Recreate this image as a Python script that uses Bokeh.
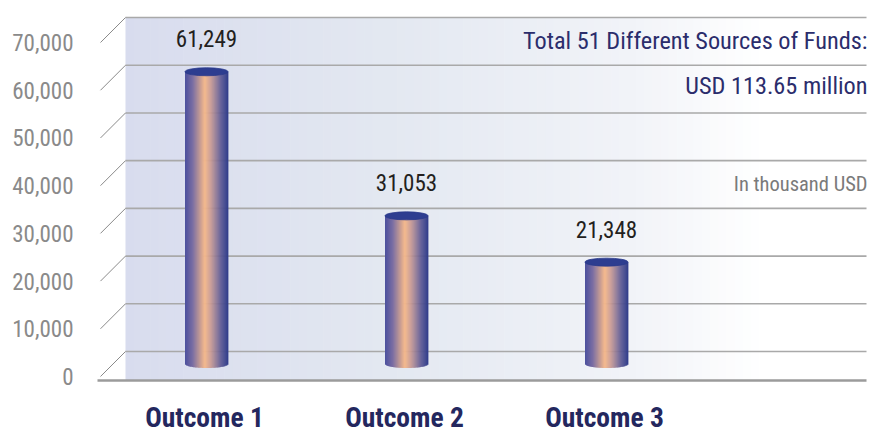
import numpy as np
from bokeh.plotting import figure
from bokeh.models import Range1d
from bokeh.core.properties import value
from bokeh.embed import file_html
from bokeh.resources import INLINE

# ---------------- data ----------------
categories = ["Outcome 1", "Outcome 2", "Outcome 3"]
amounts = [61249, 31053, 21348]
amount_labels = ["61,249", "31,053", "21,348"]
y_ticks = [0, 10000, 20000, 30000, 40000, 50000, 60000, 70000]
y_tick_labels = ["0", "10,000", "20,000", "30,000", "40,000", "50,000", "60,000", "70,000"]
title_lines = ["Total 51 Different Sources of Funds:", "USD 113.65 million"]
unit_note = "In thousand USD"

# ---------------- layout / style ----------------
W, H = 872, 435
PX_PER_X = 200.0      # pixels per category step
X0_PX = 206.0         # canvas x of first category centre
PX_PER_V = 0.004771   # pixels per value unit
V0_PX = 351.0         # canvas y of value 0 on the back wall

def dx(px):
    return px / PX_PER_X

def dv(px):
    return px / PX_PER_V

def xpix(px):
    return (px - X0_PX) / PX_PER_X

x_range = Range1d(xpix(0), xpix(W))
y_range = Range1d(-(H - V0_PX) / PX_PER_V, V0_PX / PX_PER_V)

COND = "Roboto Condensed, DejaVu Sans Condensed, sans-serif"
NAVY = "#2b2d6c"

def hex2rgb(h):
    h = h.lstrip("#")
    return [int(h[i:i + 2], 16) for i in (0, 2, 4)]

def interp(stops, t):
    for (t0, c0), (t1, c1) in zip(stops[:-1], stops[1:]):
        if t <= t1:
            f = 0 if t1 == t0 else (t - t0) / (t1 - t0)
            a, b = hex2rgb(c0), hex2rgb(c1)
            return "#%02x%02x%02x" % tuple(int(round(a[i] + (b[i] - a[i]) * f)) for i in range(3))
    return stops[-1][1]

p = figure(width=W, height=H, x_range=x_range, y_range=y_range,
           output_backend="svg", toolbar_location=None, min_border=0,
           x_axis_location=None, y_axis_location=None,
           outline_line_color=None, background_fill_color="white",
           border_fill_color="white")
p.grid.visible = False

# ---------------- back wall + floor (gradient) ----------------
wall_left = xpix(125)
wall_right = xpix(866)
floor_v = -dv(29)
top_v = y_ticks[-1]
wall_stops = [(0.0, "#d8dcee"), (0.35, "#e3e8f1"), (0.68, "#f1f3f8"),
              (0.86, "#ffffff"), (1.0, "#ffffff")]
n = 90
edges = np.linspace(wall_left, wall_right, n + 1)
wcols = [interp(wall_stops, (i + 0.5) / n) for i in range(n)]
p.quad(left=edges[:-1], right=edges[1:] + dx(0.6), bottom=floor_v, top=top_v,
       fill_color=wcols, line_color=None)

# back gridlines
p.segment(x0=[wall_left] * len(y_ticks), x1=[wall_right] * len(y_ticks),
          y0=y_ticks, y1=y_ticks, line_color="#a9a9a9", line_width=1.6)
# diagonal depth lines
front_left = wall_left - dx(25)
p.segment(x0=[front_left] * len(y_ticks), x1=[wall_left] * len(y_ticks),
          y0=[t - dv(25) for t in y_ticks], y1=y_ticks,
          line_color="#8a8a8a", line_width=1)
# floor line
p.segment(x0=[xpix(97)], x1=[wall_right], y0=[floor_v], y1=[floor_v],
          line_color="#9b9b9b", line_width=2.6)

# ---------------- cylinders ----------------
xs = np.arange(len(categories), dtype=float)
base = -dv(12.5)
half_w = dx(21.5)
cap_h = dv(8)
cyl_stops = [(0.0, "#4b509e"), (0.18, "#7a6ea3"), (0.46, "#f6b98a"),
             (0.6, "#c99a93"), (0.84, "#5b5894"), (1.0, "#2f3c8a")]
m = 44
L, R, B, T, C = [], [], [], [], []
for xi, amt in zip(xs, amounts):
    e = np.linspace(xi - half_w, xi + half_w, m + 1)
    for j in range(m):
        u = ((e[j] + e[j + 1]) / 2 - xi) / half_w
        L.append(e[j]); R.append(e[j + 1] + dx(0.4))
        B.append(base - cap_h / 2 * np.sqrt(max(0.0, 1 - u * u)))
        T.append(base + amt)
        C.append(interp(cyl_stops, (j + 0.5) / m))
p.quad(left=L, right=R, bottom=B, top=T, fill_color=C, line_color=None)

tops = [base + a for a in amounts]
p.ellipse(x=xs, y=tops, width=2 * half_w, height=cap_h,
          fill_color="#2d3d90", line_color="#2a3a8c", line_width=0.8)

# value labels
p.text(x=xs, y=tops, text=amount_labels, y_offset=-33,
       text_align="center", text_baseline="middle",
       text_font=value(COND), text_font_size="23px", text_color="#231f20")

# ---------------- tick labels ----------------
p.text(x=[xpix(73)] * len(y_ticks), y=[t - dv(25) for t in y_ticks],
       text=y_tick_labels, text_align="right", text_baseline="middle",
       text_font=value(COND), text_font_size="23px", text_color="#8a8a8a")

# category labels
p.text(x=xs - dx(2), y=[-dv(66)] * len(xs), text=categories,
       text_align="center", text_baseline="middle",
       text_font=value(COND), text_font_style="bold",
       text_font_size="27.5px", text_color="#24275e")

# ---------------- titles ----------------
tx = xpix(867)
p.text(x=[tx, tx], y=[dv(311), dv(266)], text=title_lines,
       text_align="right", text_baseline="middle",
       text_font=value(COND), text_font_size="24.3px", text_color=NAVY)
p.text(x=[tx], y=[dv(168)], text=[unit_note],
       text_align="right", text_baseline="middle",
       text_font=value(COND), text_font_size="20.5px", text_color="#7a7a7a")

open("out.html", "w").write(file_html(p, INLINE))
